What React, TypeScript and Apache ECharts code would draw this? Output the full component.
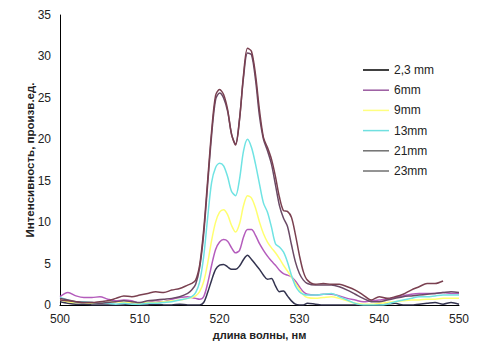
import React, { useEffect, useRef } from "react";
import * as echarts from "echarts";

const wavelengths = [
  500, 501, 502, 503, 504, 505, 506, 507, 508, 509, 510, 511, 512, 513, 514, 515, 516,
  516.5, 517, 517.5, 518, 518.5, 519, 519.5, 520, 520.5, 521, 521.5, 522, 522.5, 523, 523.5,
  524, 524.5, 525, 525.5, 526, 526.5, 527, 527.5, 528, 528.5, 529, 529.5, 530, 530.5, 531,
  532, 533, 534, 535, 536, 537, 538, 539, 540, 541, 542, 543, 544, 545, 546, 547, 548, 549, 550,
];

const s2_3mm = [
  0.4, 0.2, 0.1, 0.1, 0, 0, 0, 0, 0, 0.1, 0, 0, 0.1, 0, 0, 0.1, 0,
  0, 0, 0, 0.3, 1.5, 3.0, 4.3, 4.8, 4.9, 4.6, 4.3, 4.3, 4.7, 5.5, 6.0,
  5.5, 4.9, 4.3, 3.6, 3.1, 3.2, 2.3, 1.6, 1.7, 1.1, 0.5, 0.1, 0, 0, 0.2,
  0.1, 0, 0, 0, 0, 0, 0, 0, 0, 0.1, 0.2, 0, 0, 0.1, 0.2, 0.3, 0.1, 0.3, 0.1,
];

const s6mm = [
  1.0, 1.5, 1.1, 0.9, 0.9, 1.0, 0.7, 0.5, 0.6, 0.5, 0.2, 0.3, 0.5, 0.4, 0.7, 0.9, 1.0,
  0.9, 0.8, 0.7, 1.0, 2.6, 4.8, 6.7, 7.6, 7.9, 7.7, 6.9, 6.3, 6.6, 8.2, 9.1,
  9.1, 8.4, 7.4, 6.6, 5.9, 5.3, 4.8, 4.2, 3.8, 3.6, 3.4, 2.9, 2.2, 1.6, 1.3,
  1.2, 1.3, 1.3, 1.1, 0.8, 0.6, 0.4, 0.5, 0.6, 0.7, 0.9, 1.1, 1.3, 1.4, 1.4, 1.4, 1.5, 1.4, 1.4,
];

const s9mm = [
  0.6, 0.4, 0.3, 0.3, 0.2, 0.2, 0.3, 0.4, 0.3, 0.3, 0.2, 0.3, 0.3, 0.4, 0.5, 0.6, 0.8,
  0.9, 1.1, 1.6, 2.8, 5.0, 7.8, 10.0, 11.2, 11.5, 10.9, 9.6, 8.8, 9.8, 12.0, 13.2,
  12.9, 11.7, 10.0, 8.6, 7.6, 6.9, 6.3, 5.6, 4.8, 4.1, 3.4, 2.6, 1.9, 1.2, 0.9,
  0.8, 0.9, 1.0, 0.8, 0.5, 0.2, 0.1, 0.1, 0.2, 0.3, 0.4, 0.5, 0.6, 0.6, 0.7, 0.7, 0.8, 0.8, 0.8,
];

const s13mm = [
  0.9, 0.6, 0.4, 0.4, 0.3, 0.2, 0.2, 0.1, 0.2, 0.1, 0.1, 0.2, 0.2, 0.3, 0.4, 0.6, 0.8,
  1.0, 1.5, 2.8, 5.8, 10.5, 14.8, 16.6, 17.1, 16.8, 15.5, 13.7, 13.2, 15.2, 18.6, 20.0,
  19.0, 17.0, 14.6, 12.3, 11.2, 9.4, 7.4, 7.0, 6.4, 5.2, 3.6, 2.3, 1.6, 1.3, 1.2,
  1.2, 1.3, 1.4, 1.0, 0.6, 0.2, 0.0, 0.0, 0.0, 0.1, 0.4, 0.6, 0.8, 1.0, 1.0, 1.1, 1.2, 1.2, 1.2,
];

const s21mm = [
  0.8, 0.6, 0.4, 0.3, 0.3, 0.2, 0.3, 0.4, 0.5, 0.4, 0.3, 0.5, 0.6, 0.7, 0.8, 1.0, 1.4,
  1.8, 2.5, 4.5, 8.5, 14.5, 20.5, 24.8, 25.6, 25.0, 23.4, 20.6, 19.4, 22.5, 27.5, 30.4,
  30.2, 27.2, 22.8, 20.0, 18.6, 17.0, 14.5, 12.0, 10.5, 9.5, 7.3, 5.2, 3.8, 3.0, 2.6,
  2.4, 2.4, 2.4, 2.2, 1.8, 1.3, 0.8, 0.4, 0.4, 0.6, 0.8, 1.0, 1.1, 1.2, 1.3, 1.4, 1.5, 1.6, 1.5,
];

const s23mm = [
  0.6, 0.5, 0.4, 0.3, 0.3, 0.4, 0.5, 0.8, 1.1, 1.0, 1.2, 1.4, 1.6, 1.5, 1.8, 2.0, 2.4,
  2.6, 3.0, 4.8, 9.0, 15.0, 21.0, 25.3, 26.0, 25.4, 23.6, 20.6, 19.3, 22.4, 27.8, 31.0,
  30.6, 27.8, 23.5, 20.2, 19.0, 17.6, 15.5, 13.0, 11.4, 11.3, 10.6, 8.5, 6.0, 4.0, 3.0,
  2.5, 2.6, 2.5, 2.5, 2.2, 1.8, 1.2, 0.6, 1.0, 0.8, 1.0, 1.3, 1.8, 2.2, 2.6, 2.6, 2.9, null, null,
];

const seriesNames = ["2,3 mm", "6mm", "9mm", "13mm", "21mm", "23mm"];
const seriesValues = [s2_3mm, s6mm, s9mm, s13mm, s21mm, s23mm];
const seriesColors = ["#33334f", "#b45cbc", "#ffff70", "#6fe3e3", "#6a4a66", "#7a4050"];
const legendColors = ["#000000", "#9a5aa0", "#ffff80", "#70e0e0", "#707070", "#707070"];

const xTicks = { min: 500, max: 550, interval: 10 };
const yTicks = { min: 0, max: 35, interval: 5 };

export default function App() {
  const ref = useRef<HTMLDivElement>(null);
  useEffect(() => {
    if (!ref.current) return;
    const chart = echarts.init(ref.current, null, { renderer: "svg" });
    const font = "'Liberation Sans', Arial, sans-serif";
    chart.setOption({
      animation: false,
      backgroundColor: "#ffffff",
      grid: { left: 60, right: 23, top: 15, bottom: 55 },
      legend: {
        orient: "vertical",
        left: 358,
        top: 59,
        itemWidth: 26,
        itemHeight: 1.5,
        itemGap: 8.2,
        icon: "rect",
        textStyle: { fontFamily: font, fontSize: 12, color: "#222" },
        data: seriesNames.map((n, i) => ({
          name: n,
          itemStyle: { color: legendColors[i] },
        })),
      },
      xAxis: {
        type: "value",
        ...xTicks,
        name: "длина волны, нм",
        nameLocation: "middle",
        nameGap: 24,
        nameTextStyle: { fontFamily: font, fontSize: 11, fontWeight: "bold", color: "#222" },
        axisLine: { show: true, lineStyle: { color: "#000", width: 1 } },
        axisTick: { show: false },
        splitLine: { show: false },
        axisLabel: { fontFamily: font, fontSize: 12, color: "#222", margin: 8 },
      },
      yAxis: {
        type: "value",
        ...yTicks,
        name: "Интенсивность, произв.ед.",
        nameLocation: "middle",
        nameGap: 24,
        nameMoveOverlap: false,
        nameTextStyle: {
          fontFamily: font,
          fontSize: 11.5,
          fontWeight: "bold",
          color: "#222",
        },
        axisLine: { show: true, lineStyle: { color: "#000", width: 1 } },
        axisTick: { show: false },
        splitLine: { show: false },
        axisLabel: { fontFamily: font, fontSize: 12, color: "#222", margin: 9 },
      },
      series: seriesNames.map((n, i) => ({
        name: n,
        type: "line",
        data: wavelengths.map((w, j) => [w, seriesValues[i][j]]),
        showSymbol: false,
        symbol: "none",
        smooth: 0.3,
        connectNulls: false,
        lineStyle: { color: seriesColors[i], width: 1.5 },
        itemStyle: { color: legendColors[i] },
      })),
    });
    return () => chart.dispose();
  }, []);
  return <div ref={ref} style={{ width: 482, height: 360, marginLeft: -8, marginTop: -8 }} />;
}
